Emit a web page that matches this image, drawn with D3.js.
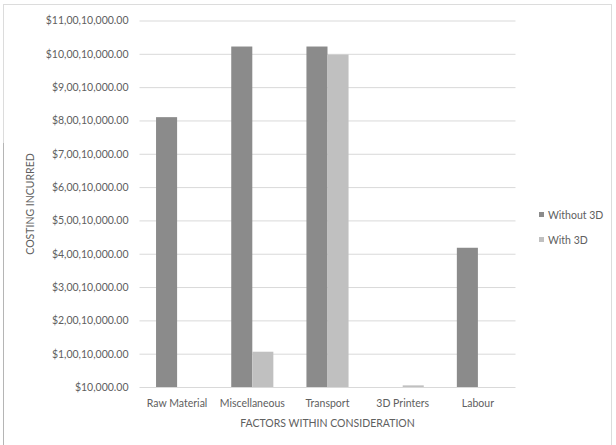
<!DOCTYPE html>
<html>
<head>
<meta charset="utf-8">
<script src="https://cdn.jsdelivr.net/npm/d3@7"></script>
<style>
  html, body { margin: 0; padding: 0; background: #ffffff; }
  svg { display: block; }
  text { font-family: Lato, "Open Sans", sans-serif; fill: #606060; }
</style>
</head>
<body>
<svg id="chart" width="616" height="445"></svg>
<script>
// Costing per factor, with and without 3D printing
const categories = ["Raw Material", "Miscellaneous", "Transport", "3D Printers", "Labour"];
const seriesNames = ["Without 3D", "With 3D"];
const withoutValues = [81000000, 102200000, 102200000, 10000, 41800000];
const withValues = [10000, 10600000, 99800000, 500000, 10000];
const tickValues = [10000, 10010000, 20010000, 30010000, 40010000, 50010000,
                    60010000, 70010000, 80010000, 90010000, 100010000, 110010000];
const tickLabels = ["$10,000.00", "$1,00,10,000.00", "$2,00,10,000.00", "$3,00,10,000.00",
                    "$4,00,10,000.00", "$5,00,10,000.00", "$6,00,10,000.00", "$7,00,10,000.00",
                    "$8,00,10,000.00", "$9,00,10,000.00", "$10,00,10,000.00", "$11,00,10,000.00"];
const colors = ["#8b8b8b", "#c0c0c0"];

const svg = d3.select("#chart");
const W = 616, H = 445;
const plot = { left: 139.5, right: 515.5, top: 20.5, bottom: 387 };
const textColor = "#606060";

// chart frame
svg.append("rect")
  .attr("x", 3.5).attr("y", 4.5).attr("width", 608).attr("height", 445)
  .attr("fill", "#ffffff").attr("stroke", "#dcdcdc").attr("stroke-width", 1);
svg.append("line")
  .attr("x1", 3.5).attr("x2", 3.5).attr("y1", 143).attr("y2", H)
  .attr("stroke", "#b5b5b5").attr("stroke-width", 1);

const y = d3.scaleLinear()
  .domain([tickValues[0], tickValues[tickValues.length - 1]])
  .range([plot.bottom, plot.top]);

const x0 = d3.scaleBand()
  .domain(categories)
  .range([plot.left, plot.right])
  .paddingInner(0.44).paddingOuter(0.22);

const x1 = d3.scaleBand()
  .domain(seriesNames)
  .range([0, x0.bandwidth()]);

// gridlines + y tick labels
const yAxis = d3.axisLeft(y)
  .tickValues(tickValues)
  .tickFormat((d, i) => tickLabels[i])
  .tickSize(-(plot.right - plot.left))
  .tickPadding(11);

const gy = svg.append("g")
  .attr("transform", `translate(${plot.left},0)`)
  .call(yAxis);
gy.select(".domain").remove();
gy.selectAll(".tick line").attr("stroke", "#d9d9d9").attr("stroke-width", 1);
gy.selectAll(".tick text")
  .attr("font-size", 10.5)
  .style("font-family", "Lato, 'Open Sans', sans-serif")
  .attr("fill", textColor);

// bars
const rows = categories.map((c, i) => ({ cat: c, vals: [withoutValues[i], withValues[i]] }));
const groups = svg.append("g").selectAll("g")
  .data(rows).join("g")
  .attr("transform", d => `translate(${x0(d.cat)},0)`);

groups.selectAll("rect")
  .data(d => d.vals.map((v, k) => ({ key: seriesNames[k], v, k })))
  .join("rect")
  .attr("x", d => x1(d.key))
  .attr("width", x1.bandwidth())
  .attr("y", d => y(d.v))
  .attr("height", d => plot.bottom - y(d.v))
  .attr("fill", d => colors[d.k]);

// x axis (baseline is the lowest gridline)
const xAxis = d3.axisBottom(x0).tickSize(0).tickPadding(13);
const gx = svg.append("g")
  .attr("transform", `translate(0,${plot.bottom})`)
  .call(xAxis);
gx.select(".domain").remove();
gx.selectAll(".tick text")
  .attr("font-size", 10.5)
  .style("font-family", "Lato, 'Open Sans', sans-serif")
  .attr("fill", textColor);

// axis titles
svg.append("text")
  .attr("x", (plot.left + plot.right) / 2)
  .attr("y", 427)
  .attr("text-anchor", "middle")
  .attr("font-size", 10.5)
  .text("FACTORS WITHIN CONSIDERATION");

svg.append("text")
  .attr("transform", "translate(34,204) rotate(-90)")
  .attr("text-anchor", "middle")
  .attr("font-size", 10.5)
  .text("COSTING INCURRED");

// legend
const legend = svg.append("g").attr("transform", "translate(539,215)");
seriesNames.forEach((name, i) => {
  const g = legend.append("g").attr("transform", `translate(0,${i * 25})`);
  g.append("rect").attr("x", 0).attr("y", -3).attr("width", 5).attr("height", 5).attr("fill", colors[i]);
  g.append("text").attr("x", 9).attr("y", 3.5).attr("font-size", 10.5).text(name);
});
</script>
</body>
</html>
